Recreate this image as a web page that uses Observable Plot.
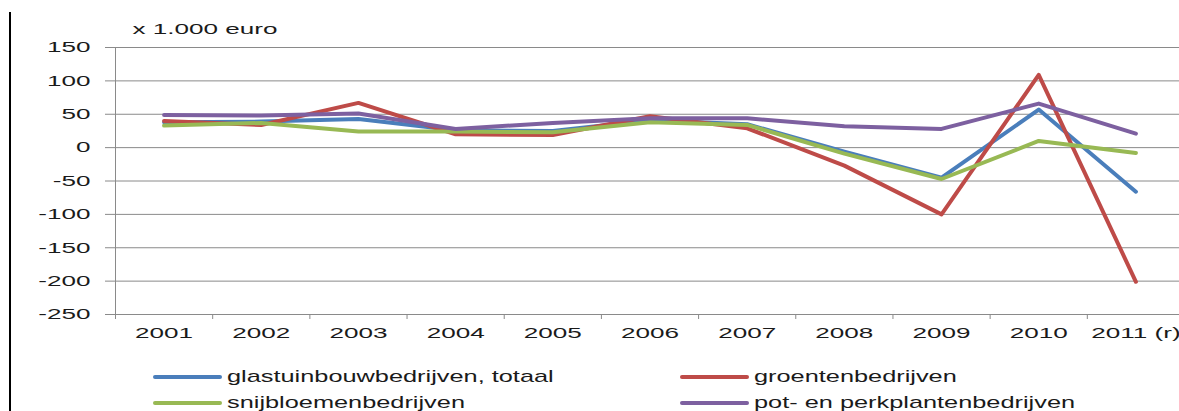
<!DOCTYPE html>
<html><head><meta charset="utf-8">
<script src="https://cdn.jsdelivr.net/npm/d3@7"></script>
<script src="https://cdn.jsdelivr.net/npm/@observablehq/plot@0.6"></script>
<style>
body{margin:0;background:#fff;font-family:"Liberation Sans",Arial,sans-serif;}
#wrap{position:relative;width:1179px;height:411px;overflow:hidden;background:#fff}
#vline{position:absolute;left:9px;top:12px;bottom:0;width:2px;background:#000}
#legend{position:absolute;left:0;top:345px;width:1179px;height:66px}
.sw{position:absolute;height:4px;width:69px;border-radius:2px}
.lt{position:absolute;font-size:17px;line-height:20px;white-space:nowrap;transform:scaleX(1.49);transform-origin:0 50%;color:#1a1a1a}
</style></head>
<body><div id="wrap"><div id="chart"></div><div id="legend"></div><div id="vline"></div></div>
<script>
const years = [2001, 2002, 2003, 2004, 2005, 2006, 2007, 2008, 2009, 2010, 2011];
const xLabels = ["2001", "2002", "2003", "2004", "2005", "2006", "2007", "2008", "2009", "2010", "2011 (r)"];
const yTicks = [150, 100, 50, 0, -50, -100, -150, -200, -250];
const yLabel = "x 1.000 euro";

const seriesNames = ["glastuinbouwbedrijven, totaal", "groentenbedrijven", "snijbloemenbedrijven", "pot- en perkplantenbedrijven"];
const seriesColors = ["#4A7EBB", "#BE4B48", "#98B954", "#7D60A0"];

const totaal      = [38, 39, 43, 26, 25, 41, 35, -6, -45, 57, -66];
const groenten    = [40, 34, 67, 20, 19, 47, 29, -27, -100, 109, -201];
const snijbloemen = [33, 37, 24, 24, 23, 38, 34, -9, -47, 10, -8];
const potplanten  = [49, 48, 51, 28, 37, 44, 44, 32, 28, 66, 21];

const seriesValues = [totaal, groenten, snijbloemen, potplanten];
const rows = [];
seriesNames.forEach((name, s) => {
  years.forEach((yr, i) => rows.push({series: name, year: yr, value: seriesValues[s][i]}));
});
const boundaries = years.map(y => y - 0.5);

const grid = "#8a8a8a";
const chart = Plot.plot({
  width: 1179, height: 345,
  marginTop: 47, marginBottom: 31, marginLeft: 115, marginRight: 0,
  style: {fontFamily: "Liberation Sans, Arial, sans-serif", fontSize: "15px", color: "#1a1a1a", background: "#fff"},
  x: {type: "linear", domain: [2000.5, 2011.5], range: [115, 1184]},
  y: {domain: [-250, 150]},
  color: {domain: seriesNames, range: seriesColors},
  marks: [
    Plot.gridY(yTicks, {stroke: grid, strokeOpacity: 1}),
    Plot.ruleX([2000.5], {stroke: grid}),
    Plot.ruleY([-250], {stroke: grid}),
    Plot.axisY(yTicks, {tickSize: 10, tickPadding: 15, stroke: grid, label: null, fontSize: 15, tickFormat: d => String(d)}),
    Plot.axisX(boundaries, {tickSize: 5, tickFormat: () => "", stroke: grid, label: null}),
    Plot.axisX(years, {tickSize: 0, tickPadding: 13, tickFormat: d => xLabels[years.indexOf(d)], label: null, fontSize: 15}),
    Plot.line(rows, {x: "year", y: "value", z: "series", stroke: "series", strokeWidth: 4, strokeLinecap: "round", strokeLinejoin: "round"}),
    Plot.text([yLabel], {frameAnchor: "top-left", dx: 17, dy: -14, lineAnchor: "bottom", textAnchor: "start", text: d => d, fontSize: 15})
  ]
});
document.getElementById("chart").appendChild(chart);

// horizontally stretch the texts like the reference, around each text's anchor point
const SX = 1.74;
d3.select(chart).selectAll("text").each(function() {
  if (!this.textContent) return;
  const bb = this.getBBox();
  const anchor = getComputedStyle(this).textAnchor;
  const ax = anchor === "middle" ? bb.x + bb.width / 2 : anchor === "end" ? bb.x + bb.width : bb.x;
  const t = this.getAttribute("transform") || "";
  this.setAttribute("transform", `${t} translate(${ax},0) scale(${SX},1) translate(${-ax},0)`);
});

// legend
const legend = document.getElementById("legend");
const legPos = [[153, 32], [680, 32], [153, 58], [680, 58]];
seriesNames.forEach((name, i) => {
  const [lx, ly] = legPos[i];
  const sw = document.createElement("div");
  sw.className = "sw"; sw.style.left = lx + "px"; sw.style.top = (ly - 2) + "px"; sw.style.background = seriesColors[i];
  legend.appendChild(sw);
  const lt = document.createElement("div");
  lt.className = "lt"; lt.style.left = (lx + 74) + "px"; lt.style.top = (ly - 10) + "px"; lt.textContent = name;
  legend.appendChild(lt);
});
</script>
</body></html>
